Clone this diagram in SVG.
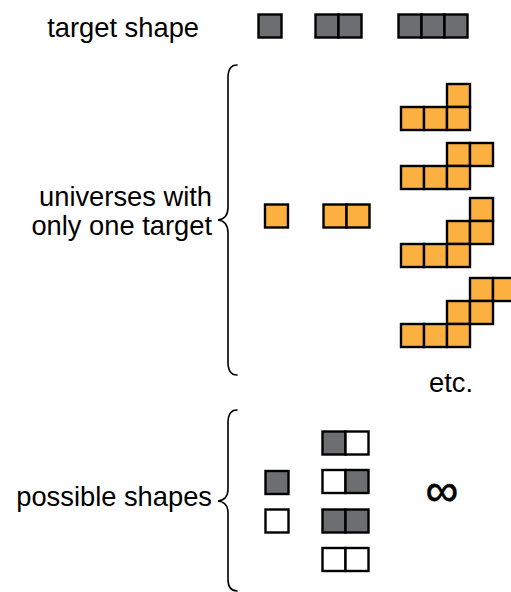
<svg xmlns="http://www.w3.org/2000/svg" width="511" height="592" viewBox="0 0 511 592">
  <style>
    .lbl { font-family: "Liberation Sans", Arial, Helvetica, sans-serif; font-size: 27.3px; fill: #000; }
    .end { text-anchor: end; }
    .mid { text-anchor: middle; }
    .inf { font-size: 46px; stroke: #000; stroke-width: 0.6; }
    .c { stroke: #000; stroke-width: 2.4; }
    .g { fill: #6d6e71; }
    .o { fill: #fbb040; }
    .w { fill: #fff; }
    .brace { fill: none; stroke: #000; stroke-width: 1.6; stroke-linecap: round; }
  </style>
  <rect x="0" y="0" width="511" height="592" fill="#fff"/>

  <!-- row labels -->
  <g id="labels">
    <text class="lbl end" x="199" y="37">target shape</text>
    <text class="lbl end" x="212" y="206">universes with</text>
    <text class="lbl end" x="212" y="235">only one target</text>
    <text class="lbl end" x="212" y="506">possible shapes</text>
    <text class="lbl mid" x="451" y="392">etc.</text>
    <text class="lbl mid inf" x="442" y="506">∞</text>
  </g>

  <!-- curly braces -->
  <g id="braces">
    <path class="brace" d="M237 65 Q228 65 228 78 L228 207 Q228 219 218 220 Q228 221 228 233 L228 362 Q228 375 237 375"/>
    <path class="brace" d="M237 410 Q228 410 228 423 L228 489 Q228 500 218 501 Q228 502 228 513 L228 579 Q228 591 237 591"/>
  </g>

  <!-- target shapes -->
  <g id="target-1">
    <rect class="c g" x="258.5" y="14.5" width="23" height="23"/>
  </g>
  <g id="target-2">
    <rect class="c g" x="315.5" y="14.5" width="23" height="23"/>
    <rect class="c g" x="338.5" y="14.5" width="23" height="23"/>
  </g>
  <g id="target-3">
    <rect class="c g" x="398.5" y="14.5" width="23" height="23"/>
    <rect class="c g" x="421.5" y="14.5" width="23" height="23"/>
    <rect class="c g" x="444.5" y="14.5" width="23" height="23"/>
  </g>

  <!-- universes with only one target -->
  <g id="universe-1">
    <rect class="c o" x="265" y="204.5" width="23" height="23"/>
  </g>
  <g id="universe-2">
    <rect class="c o" x="323.5" y="204.5" width="23" height="23"/>
    <rect class="c o" x="346.5" y="204.5" width="23" height="23"/>
  </g>
  <g id="universe-3a">
    <rect class="c o" x="447" y="84" width="23" height="23"/>
    <rect class="c o" x="401" y="107" width="23" height="23"/>
    <rect class="c o" x="424" y="107" width="23" height="23"/>
    <rect class="c o" x="447" y="107" width="23" height="23"/>
  </g>
  <g id="universe-3b">
    <rect class="c o" x="447" y="143" width="23" height="23"/>
    <rect class="c o" x="470" y="143" width="23" height="23"/>
    <rect class="c o" x="401" y="166" width="23" height="23"/>
    <rect class="c o" x="424" y="166" width="23" height="23"/>
    <rect class="c o" x="447" y="166" width="23" height="23"/>
  </g>
  <g id="universe-3c">
    <rect class="c o" x="470" y="198" width="23" height="23"/>
    <rect class="c o" x="447" y="221" width="23" height="23"/>
    <rect class="c o" x="470" y="221" width="23" height="23"/>
    <rect class="c o" x="401" y="244" width="23" height="23"/>
    <rect class="c o" x="424" y="244" width="23" height="23"/>
    <rect class="c o" x="447" y="244" width="23" height="23"/>
  </g>
  <g id="universe-3d">
    <rect class="c o" x="470" y="278" width="23" height="23"/>
    <rect class="c o" x="493" y="278" width="23" height="23"/>
    <rect class="c o" x="447" y="301" width="23" height="23"/>
    <rect class="c o" x="470" y="301" width="23" height="23"/>
    <rect class="c o" x="401" y="324" width="23" height="23"/>
    <rect class="c o" x="424" y="324" width="23" height="23"/>
    <rect class="c o" x="447" y="324" width="23" height="23"/>
  </g>

  <!-- possible shapes -->
  <g id="possible-1a">
    <rect class="c g" x="265.5" y="471" width="23" height="23"/>
  </g>
  <g id="possible-1b">
    <rect class="c w" x="265.5" y="509.5" width="23" height="23"/>
  </g>
  <g id="possible-2a">
    <rect class="c g" x="322.5" y="431.5" width="23" height="23"/>
    <rect class="c w" x="345.5" y="431.5" width="23" height="23"/>
  </g>
  <g id="possible-2b">
    <rect class="c w" x="322.5" y="470" width="23" height="23"/>
    <rect class="c g" x="345.5" y="470" width="23" height="23"/>
  </g>
  <g id="possible-2c">
    <rect class="c g" x="322.5" y="509.5" width="23" height="23"/>
    <rect class="c g" x="345.5" y="509.5" width="23" height="23"/>
  </g>
  <g id="possible-2d">
    <rect class="c w" x="322.5" y="548" width="23" height="23"/>
    <rect class="c w" x="345.5" y="548" width="23" height="23"/>
  </g>
</svg>
